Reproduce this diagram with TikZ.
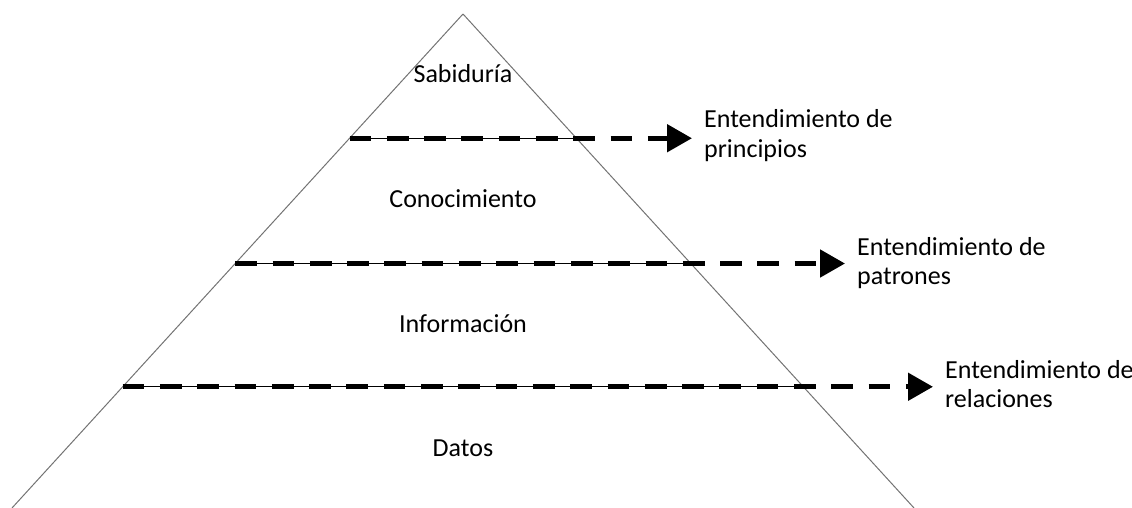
\documentclass[tikz,border=0pt]{standalone}
\usepackage{fontspec}
\setmainfont{Carlito}
\usetikzlibrary{arrows.meta,calc}
\tikzset{
  side/.style={draw=black!55, line width=1pt},
  thinrule/.style={draw=black, line width=1.1pt},
  dasharrow/.style={draw=black, line width=5pt, dash pattern=on 21.7pt off 15.6pt,
    -{Triangle[length=25pt,width=27pt]}},
  level/.style={font=\fontsize{26}{31}\selectfont, inner sep=0pt, anchor=base},
  note/.style={font=\fontsize{26}{29.5}\selectfont, inner sep=0pt, align=left, anchor=base west},
}
\begin{document}
\begin{tikzpicture}[x=1pt,y=-1pt]
\useasboundingbox (0,0) rectangle (1132,508);
\coordinate (A) at (463,14);
\coordinate (BL) at (12,508);
\coordinate (BR) at (914,508);
\path[side] (A) -- (BL);
\path[side] (A) -- (BR);
% level lines
\coordinate (L1) at ($(A)!0.2515!(BL)$);
\coordinate (R1) at ($(A)!0.2515!(BR)$);
\coordinate (L2) at ($(A)!0.5051!(BL)$);
\coordinate (R2) at ($(A)!0.5051!(BR)$);
\coordinate (L3) at ($(A)!0.7546!(BL)$);
\coordinate (R3) at ($(A)!0.7546!(BR)$);
\path[thinrule] (L1) -- (R1);
\path[thinrule] (L2) -- (R2);
\path[thinrule] (L3) -- (R3);
% arrow tips
\coordinate (T1) at ($(L1)+(692,0)-(L1|-0,0)$);
\coordinate (T2) at ($(L2)+(845,0)-(L2|-0,0)$);
\coordinate (T3) at ($(L3)+(933,0)-(L3|-0,0)$);
\path[dasharrow] (L1) -- (T1);
\path[dasharrow] (L2) -- (T2);
\path[dasharrow] (L3) -- (T3);
% level labels
\node[level] (sab) at (463,83) {Sabiduría};
\node[level] (con) at (463,207) {Conocimiento};
\node[level] (inf) at (463,332) {Información};
\node[level] (dat) at (463,456) {Datos};
% notes
\node[note] (n1) at ($(T1)+(12,19)$) {Entendimiento de\\principios};
\node[note] (n2) at ($(T2)+(12,21)$) {Entendimiento de\\patrones};
\node[note] (n3) at ($(T3)+(12,21)$) {Entendimiento de\\relaciones};
\end{tikzpicture}
\end{document}
